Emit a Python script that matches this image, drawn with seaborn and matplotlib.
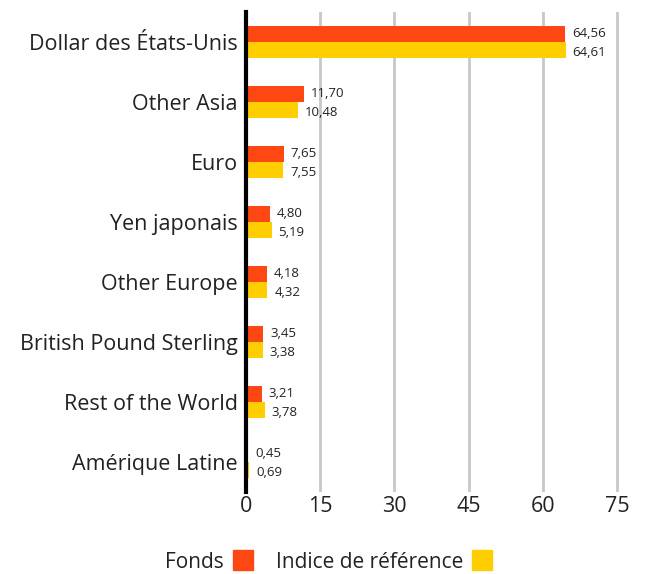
import matplotlib
matplotlib.use("Agg")
import matplotlib.pyplot as plt
import seaborn as sns
import pandas as pd
from matplotlib.lines import Line2D

categories = ["Dollar des États-Unis", "Other Asia", "Euro", "Yen japonais",
              "Other Europe", "British Pound Sterling", "Rest of the World", "Amérique Latine"]
fonds = [64.56, 11.70, 7.65, 4.80, 4.18, 3.45, 3.21, 0.45]
indice = [64.61, 10.48, 7.55, 5.19, 4.32, 3.38, 3.78, 0.69]
series = ["Fonds", "Indice de référence"]
colors = ["#FF4713", "#FFCE00"]
xticks = [0, 15, 30, 45, 60, 75]

df = pd.DataFrame({
    "cat": categories * 2,
    "val": fonds + indice,
    "serie": [series[0]] * len(categories) + [series[1]] * len(categories),
})

sns.set_theme(style="white")
plt.rcParams["font.family"] = ["Open Sans", "DejaVu Sans"]

fig = plt.figure(figsize=(6.46, 5.74), dpi=100)
ax = fig.add_axes([246 / 646, 1 - 492 / 574, (627 - 246) / 646, 480 / 574])

sns.barplot(data=df, y="cat", x="val", hue="serie", palette=colors, orient="h",
            width=0.54, ax=ax, legend=False, saturation=1, linewidth=0)

for container, dy in zip(ax.containers, [0, -2]):
    for patch, v in zip(container.patches, container.datavalues):
        yc = patch.get_y() + patch.get_height() / 2
        ax.annotate(f"{v:.2f}".replace(".", ","), xy=(patch.get_width(), yc),
                    xytext=(5, dy), textcoords="offset points", ha="left", va="center",
                    fontsize=9.5, color="#222222")

ax.set_xlim(0, 77)
ax.set_ylim(7.5, -0.5)
ax.set_xticks(xticks)
ax.set_xticklabels([str(t) for t in xticks], fontsize=15.5, color="#222222")
ax.tick_params(axis="y", labelsize=15.5, colors="#222222", length=0, pad=6)
ax.tick_params(axis="x", length=0, pad=3)
ax.set_xlabel("")
ax.set_ylabel("")
ax.xaxis.grid(True, color="#c8c8c8", linewidth=2)
ax.set_axisbelow(True)
for s in ["top", "right", "bottom"]:
    ax.spines[s].set_visible(False)
ax.spines["left"].set_color("black")
ax.spines["left"].set_linewidth(3)
ax.spines["left"].set_zorder(5)

handles = [Line2D([], [], marker="s", linestyle="", markersize=15, color=c) for c in colors]
fig.legend(handles, series, loc="center", bbox_to_anchor=(330 / 646, 1 - 562 / 574),
           ncol=2, frameon=False, markerfirst=False, fontsize=15, handletextpad=0.3,
           columnspacing=1.0, labelcolor="#222222", handlelength=1.2)

fig.savefig("out.png", dpi=100)
